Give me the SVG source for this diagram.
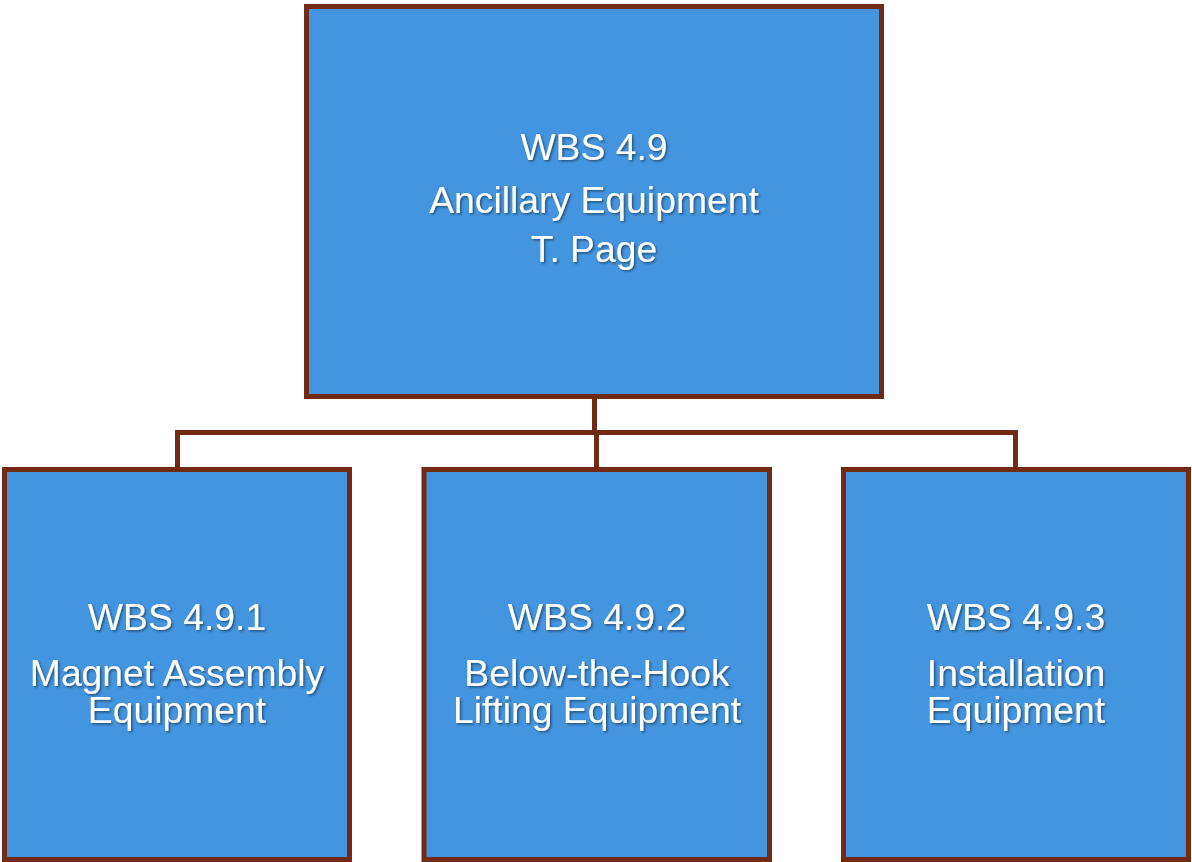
<svg xmlns="http://www.w3.org/2000/svg" width="1192" height="862" viewBox="0 0 1192 862">
  <defs>
    <filter id="txtShadow" x="-10%" y="-30%" width="120%" height="160%">
      <feDropShadow dx="1.5" dy="1.5" stdDeviation="1" flood-color="#000" flood-opacity="0.45"/>
    </filter>
  </defs>
  <style>
    .box { fill: #4495DF; stroke: #722A15; stroke-width: 5; }
    .wire { fill: none; stroke: #722A15; stroke-width: 5; }
    .lbl { font-family: "Liberation Sans", Arial, sans-serif; font-size: 37.3px; fill: #FFFFFF; text-anchor: middle; filter: url(#txtShadow); }
  </style>

  <!-- connectors -->
  <g id="connectors">
    <path class="wire" d="M594.5 396.5 V432.5"/>
    <path class="wire" d="M177.5 469.5 V432.5 H1015.5 V469.5"/>
    <path class="wire" d="M596.5 432.5 V469.5"/>
  </g>

  <!-- root -->
  <g id="wbs-4-9">
    <rect class="box" x="306.5" y="6.5" width="575" height="390"/>
    <text class="lbl" x="594" y="160">WBS 4.9</text>
    <text class="lbl" x="594" y="213">Ancillary Equipment</text>
    <text class="lbl" x="594" y="262">T. Page</text>
  </g>

  <!-- children -->
  <g id="wbs-4-9-1">
    <rect class="box" x="4.5" y="469.5" width="345" height="390"/>
    <text class="lbl" x="177" y="630">WBS 4.9.1</text>
    <text class="lbl" x="177" y="686">Magnet Assembly</text>
    <text class="lbl" x="177" y="723">Equipment</text>
  </g>

  <g id="wbs-4-9-2">
    <rect class="box" x="424" y="469.5" width="345.5" height="390"/>
    <text class="lbl" x="597" y="630">WBS 4.9.2</text>
    <text class="lbl" x="597" y="686">Below-the-Hook</text>
    <text class="lbl" x="597" y="723">Lifting Equipment</text>
  </g>

  <g id="wbs-4-9-3">
    <rect class="box" x="843.5" y="469.5" width="345" height="390"/>
    <text class="lbl" x="1016" y="630">WBS 4.9.3</text>
    <text class="lbl" x="1016" y="686">Installation</text>
    <text class="lbl" x="1016" y="723">Equipment</text>
  </g>
</svg>
